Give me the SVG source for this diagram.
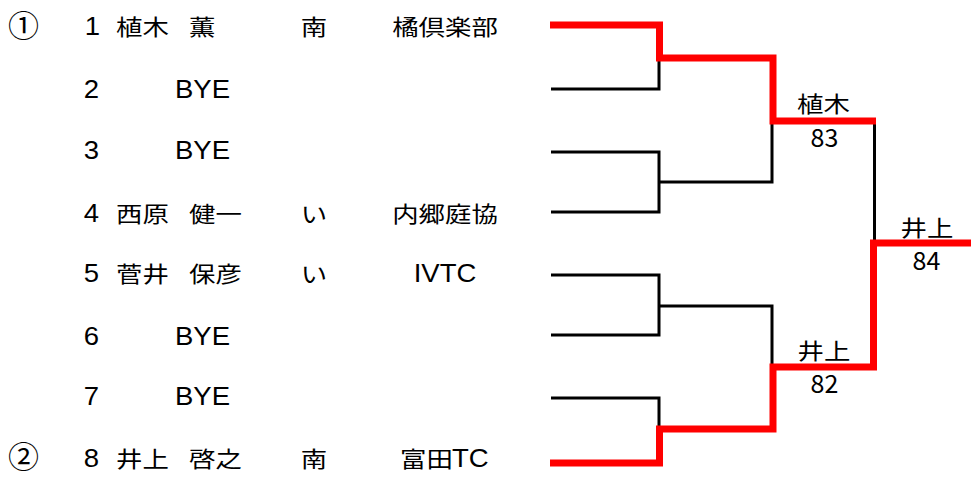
<svg xmlns="http://www.w3.org/2000/svg" width="971" height="477" viewBox="0 0 971 477">
<style>
.lat{font-family:"Liberation Sans",Arial,sans-serif;font-size:25px;fill:#000}
.cjk{font-family:"Noto Sans CJK JP","Noto Sans CJK SC",sans-serif;font-size:22px;fill:#000}
.num{font-family:"Noto Sans CJK JP","Noto Sans CJK SC",sans-serif;font-size:25px;fill:#000}
.circ{font-family:"Noto Sans CJK JP","Noto Sans CJK SC",sans-serif;font-size:31px;fill:#000}
.mid{text-anchor:middle}
.blk{fill:none;stroke:#000;stroke-width:3}
.red{fill:none;stroke:#ff0000;stroke-width:7;stroke-linejoin:miter}
</style>
<rect width="971" height="477" fill="#fff"/>
<g id="seeds">
<text class="circ mid" x="23.5" y="37">①</text>
<text class="circ mid" x="23.5" y="468">②</text>
</g>
<g id="p1">
<text class="lat mid" transform="translate(92.5,35) scale(1.1,1)">1</text>
<text class="cjk" transform="translate(116,35) scale(1.2,1)">植木</text>
<text class="cjk" transform="translate(189,35) scale(1.2,1)">薫</text>
<text class="cjk mid" transform="translate(314,35) scale(1.2,1)">南</text>
<text class="cjk mid" transform="translate(445,35) scale(1.2,1)">橘倶楽部</text>
</g>
<g id="p2">
<text class="lat mid" transform="translate(91.5,98) scale(1.1,1)">2</text>
<text class="lat" transform="translate(175,98) scale(1.1,1)">BYE</text>
</g>
<g id="p3">
<text class="lat mid" transform="translate(91.5,159) scale(1.1,1)">3</text>
<text class="lat" transform="translate(175,159) scale(1.1,1)">BYE</text>
</g>
<g id="p4">
<text class="lat mid" transform="translate(91.5,222) scale(1.1,1)">4</text>
<text class="cjk" transform="translate(116,222) scale(1.2,1)">西原</text>
<text class="cjk" transform="translate(189,222) scale(1.2,1)">健一</text>
<text class="cjk mid" transform="translate(314,222) scale(1.2,1)">い</text>
<text class="cjk mid" transform="translate(445,222) scale(1.2,1)">内郷庭協</text>
</g>
<g id="p5">
<text class="lat mid" transform="translate(91.5,282) scale(1.1,1)">5</text>
<text class="cjk" transform="translate(116,282) scale(1.2,1)">菅井</text>
<text class="cjk" transform="translate(189,282) scale(1.2,1)">保彦</text>
<text class="cjk mid" transform="translate(314,282) scale(1.2,1)">い</text>
<text class="lat mid" transform="translate(445,282) scale(1.1,1)">IVTC</text>
</g>
<g id="p6">
<text class="lat mid" transform="translate(91.5,345) scale(1.1,1)">6</text>
<text class="lat" transform="translate(175,345) scale(1.1,1)">BYE</text>
</g>
<g id="p7">
<text class="lat mid" transform="translate(91.5,405) scale(1.1,1)">7</text>
<text class="lat" transform="translate(175,405) scale(1.1,1)">BYE</text>
</g>
<g id="p8">
<text class="lat mid" transform="translate(91.5,467) scale(1.1,1)">8</text>
<text class="cjk" transform="translate(116,467) scale(1.2,1)">井上</text>
<text class="cjk" transform="translate(189,467) scale(1.2,1)">啓之</text>
<text class="cjk mid" transform="translate(314,467) scale(1.2,1)">南</text>
<text class="cjk" transform="translate(400,467) scale(1.2,1)">富田</text>
<text class="lat" transform="translate(452,467) scale(1.1,1)">TC</text>
</g>
<g id="connectors">
<path class="blk" d="M551,89 H659 V58"/>
<path class="blk" d="M551,152 H659 V212 H551 M659,182 H772 V121"/>
<path class="blk" d="M551,275 H659 V335 H551 M659,306 H772 V367"/>
<path class="blk" d="M551,398 H659 V429"/>
<path class="blk" d="M874.5,121 V243"/>
<path class="red" d="M550,25 H659.5 V58 H773 V121 H876"/>
<path class="red" d="M550,463 H659.5 V429 H773 V367 H873.5 V243 H971"/>
</g>
<g id="r1-winner">
<text class="cjk mid" transform="translate(823.5,111.5) scale(1.2,1)">植木</text>
<text class="num mid" x="824.5" y="147">83</text>
</g>
<g id="r2-winner">
<text class="cjk mid" transform="translate(824,358.5) scale(1.2,1)">井上</text>
<text class="num mid" x="824.5" y="393">82</text>
</g>
<g id="final-winner">
<text class="cjk mid" transform="translate(927,235.5) scale(1.2,1)">井上</text>
<text class="num mid" x="926.5" y="270">84</text>
</g>
</svg>
